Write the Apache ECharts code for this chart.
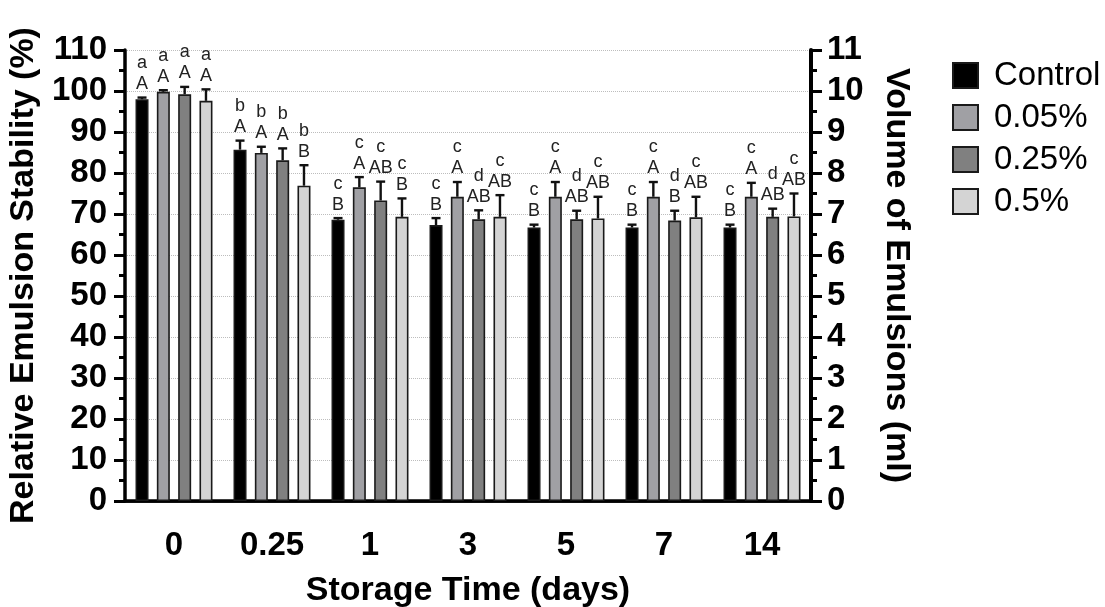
<!DOCTYPE html>
<html>
<head>
<meta charset="utf-8">
<script src="https://cdn.jsdelivr.net/npm/echarts@6/dist/echarts.min.js"></script>
<style>
  html, body { margin: 0; padding: 0; background: #fff; }
  #chart { width: 1105px; height: 607px; }
</style>
</head>
<body>
<div id="chart"></div>
<script>
// Storage time categories (days)
const days = ['0', '0.25', '1', '3', '5', '7', '14'];
const seriesNames = ['Control', '0.05%', '0.25%', '0.5%'];

// Relative emulsion stability (%) means
const control = [98.0, 85.7, 68.6, 67.3, 66.7, 66.7, 66.7];
const conc005 = [99.8, 84.9, 76.5, 74.2, 74.2, 74.2, 74.2];
const conc025 = [99.2, 83.1, 73.3, 68.7, 68.7, 68.4, 69.3];
const conc05  = [97.6, 76.9, 69.3, 69.3, 68.9, 69.2, 69.4];

// Standard deviations
const controlSd = [0.4, 2.2, 0.4, 1.7, 0.7, 0.7, 0.7];
const conc005Sd = [0.4, 1.5, 2.5, 3.6, 3.6, 3.6, 3.4];
const conc025Sd = [1.8, 2.9, 4.6, 2.2, 2.1, 2.4, 2.0];
const conc05Sd  = [2.8, 5.0, 4.5, 5.3, 5.3, 5.0, 5.6];

// Significance letters: lowercase = storage time, uppercase = treatment
const controlLower = ['a', 'b', 'c', 'c', 'c', 'c', 'c'];
const controlUpper = ['A', 'A', 'B', 'B', 'B', 'B', 'B'];
const conc005Lower = ['a', 'b', 'c', 'c', 'c', 'c', 'c'];
const conc005Upper = ['A', 'A', 'A', 'A', 'A', 'A', 'A'];
const conc025Lower = ['a', 'b', 'c', 'd', 'd', 'd', 'd'];
const conc025Upper = ['A', 'A', 'AB', 'AB', 'AB', 'B', 'AB'];
const conc05Lower  = ['a', 'b', 'c', 'c', 'c', 'c', 'c'];
const conc05Upper  = ['A', 'B', 'B', 'AB', 'AB', 'AB', 'AB'];

const colors = ['#000000', '#a0a0a4', '#808080', '#d4d4d4'];
const FONT = '"Liberation Sans", Arial, sans-serif';
const BAR_W = 13;
const BAR_GAP = 0.64;

const means = [control, conc005, conc025, conc05];
const sds = [controlSd, conc005Sd, conc025Sd, conc05Sd];
const lowers = [controlLower, conc005Lower, conc025Lower, conc05Lower];
const uppers = [controlUpper, conc005Upper, conc025Upper, conc05Upper];

function barOffset(k) {
  return (k - 1.5) * BAR_W * (1 + BAR_GAP);
}

const barSeries = seriesNames.map((name, k) => ({
  name: name,
  type: 'bar',
  data: means[k],
  barWidth: BAR_W,
  barGap: (BAR_GAP * 100) + '%',
  itemStyle: { color: colors[k], borderColor: '#1a1a1a', borderWidth: 1.6 },
  z: 3
}));

const errorSeries = seriesNames.map((name, k) => ({
  name: name + ' SD',
  type: 'custom',
  z: 5,
  data: means[k].map((v, i) => [i, v, sds[k][i]]),
  renderItem: function (params, api) {
    const i = api.value(0);
    const v = api.value(1);
    const sd = api.value(2);
    const base = api.coord([i, v]);
    const top = api.coord([i, v + sd]);
    const x = base[0] + barOffset(k);
    return {
      type: 'group',
      children: [
        { type: 'line', shape: { x1: x, y1: base[1], x2: x, y2: top[1] },
          style: { stroke: '#111', lineWidth: 2.4 } },
        { type: 'line', shape: { x1: x - 4.5, y1: top[1], x2: x + 4.5, y2: top[1] },
          style: { stroke: '#111', lineWidth: 2.4 } },
        { type: 'text', x: x, y: top[1] - 3,
          style: { text: lowers[k][i] + '\n' + uppers[k][i], align: 'center', verticalAlign: 'bottom',
                   fontSize: 18, fontFamily: FONT, fill: '#222', lineHeight: 21 } }
      ]
    };
  }
}));

const tickLabel = { color: '#000', fontSize: 33, fontWeight: 'bold', fontFamily: FONT };
const axisName = { color: '#000', fontSize: 34, fontWeight: 'bold', fontFamily: FONT };

const option = {
  animation: false,
  backgroundColor: '#fff',
  grid: { left: 125, right: 294, top: 50, bottom: 106, containLabel: false, outerBoundsMode: 'none' },
  legend: {
    data: seriesNames,
    orient: 'vertical',
    left: 952,
    top: 59,
    padding: 0,
    itemWidth: 25,
    itemHeight: 25,
    itemGap: 9,
    icon: 'rect',
    itemStyle: { borderColor: '#1a1a1a', borderWidth: 2 },
    textStyle: { fontSize: 33, fontFamily: FONT, color: '#000', lineHeight: 29, padding: [0, 0, 0, 11] }
  },
  xAxis: [
    {
      type: 'category',
      data: days,
      position: 'bottom',
      axisLine: { lineStyle: { color: '#000', width: 3.5 } },
      axisTick: { alignWithLabel: true, length: 13, lineStyle: { color: '#000', width: 3 } },
      axisLabel: Object.assign({ margin: 28 }, tickLabel),
      name: 'Storage Time (days)',
      nameLocation: 'middle',
      nameGap: 73,
      nameTextStyle: axisName
    },
    {
      type: 'category',
      data: days,
      position: 'top',
      axisLine: { lineStyle: { color: '#000', width: 2.5 } },
      axisTick: { show: false },
      axisLabel: { show: false }
    }
  ],
  yAxis: [
    {
      type: 'value',
      min: 0, max: 110, interval: 10,
      position: 'left',
      axisLine: { show: true, lineStyle: { color: '#000', width: 3.5 } },
      axisTick: { show: true, length: 11, lineStyle: { color: '#000', width: 3 } },
      minorTick: { show: true, splitNumber: 2, length: 6, lineStyle: { color: '#000', width: 3 } },
      axisLabel: Object.assign({ margin: 18 }, tickLabel),
      splitLine: { show: true, lineStyle: { color: '#bdbdbd', type: 'dotted', width: 1 } },
      name: 'Relative Emulsion Stability (%)',
      nameLocation: 'middle',
      nameRotate: 90,
      nameGap: 76,
      nameTextStyle: axisName
    },
    {
      type: 'value',
      min: 0, max: 11, interval: 1,
      position: 'right',
      axisLine: { show: true, lineStyle: { color: '#000', width: 4 } },
      axisTick: { show: true, length: 11, lineStyle: { color: '#000', width: 3 } },
      minorTick: { show: true, splitNumber: 2, length: 6, lineStyle: { color: '#000', width: 3 } },
      axisLabel: Object.assign({ margin: 16 }, tickLabel),
      splitLine: { show: false },
      name: 'Volume of Emulsions (ml)',
      nameLocation: 'middle',
      nameRotate: -90,
      nameGap: 68,
      nameTextStyle: axisName
    }
  ],
  series: barSeries.concat(errorSeries)
};

const chart = echarts.init(document.getElementById('chart'), null, { renderer: 'canvas' });
chart.setOption(option);
</script>
</body>
</html>
